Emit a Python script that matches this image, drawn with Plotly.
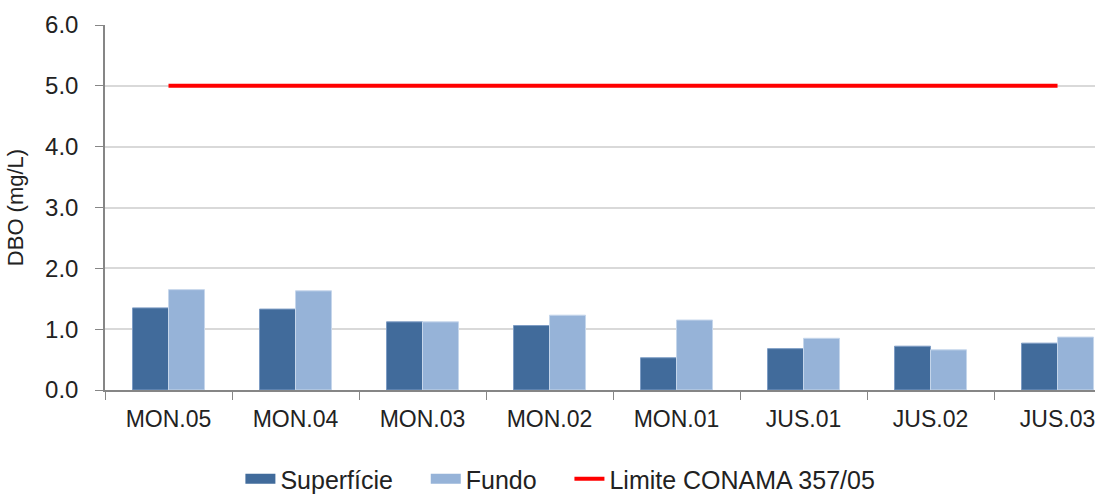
import plotly.graph_objects as go

stations = ["MON.05", "MON.04", "MON.03", "MON.02", "MON.01", "JUS.01", "JUS.02", "JUS.03"]
superficie = [1.35, 1.33, 1.12, 1.06, 0.53, 0.68, 0.72, 0.77]
fundo = [1.65, 1.63, 1.12, 1.23, 1.15, 0.85, 0.66, 0.87]
limite = [5.0] * len(stations)
y_ticks = [0, 1, 2, 3, 4, 5, 6]

font_family = "Liberation Sans, Arial, sans-serif"
dark_blue = "#416b9b"
light_blue = "#96b3d8"

fig = go.Figure()
fig.add_trace(go.Bar(
    x=stations, y=superficie, name="Superfície", showlegend=False,
    marker=dict(color=dark_blue, line=dict(color="#7d9cc4", width=1)),
))
fig.add_trace(go.Bar(
    x=stations, y=fundo, name="Fundo", showlegend=False,
    marker=dict(color=light_blue, line=dict(color="#c6d6eb", width=1)),
))
fig.add_trace(go.Scatter(
    x=stations, y=limite, name="Limite CONAMA 357/05", showlegend=False,
    mode="lines", line=dict(color="#ff0000", width=4),
))

# legend entries with wide swatches like the original
pad = "\u00a0" * 4
for name, color, width in [("Superfície" + pad, dark_blue, 16), ("Fundo" + pad, light_blue, 16),
                           ("Limite CONAMA 357/05", "#ff0000", 4)]:
    fig.add_trace(go.Scatter(x=[None], y=[None], mode="lines", name=name,
                             line=dict(color=color, width=width)))

fig.update_layout(
    width=1095, height=494,
    paper_bgcolor="white", plot_bgcolor="white",
    font=dict(family=font_family, color="#222222", size=23),
    margin=dict(l=105, r=0, t=25, b=104, autoexpand=False),
    barmode="group", bargap=0.433, bargroupgap=0,
    showlegend=True,
    legend=dict(orientation="h", x=0.46, xanchor="center", y=-0.244, yanchor="middle",
                font=dict(size=25), traceorder="normal"),
)
fig.update_xaxes(
    range=[-0.5, 7.295], showline=True, linecolor="#868686", linewidth=1.5,
    ticks="outside", tickson="boundaries", ticklen=8, tickcolor="#868686",
    tickfont=dict(size=23), ticklabelstandoff=8, showgrid=False, automargin=False,
)
fig.update_yaxes(
    range=[0, 6], tickvals=y_ticks, tickformat=".1f",
    showline=True, linecolor="#868686", linewidth=1.5,
    ticks="outside", ticklen=8, tickcolor="#868686",
    gridcolor="#d9d9d9", gridwidth=1.5, zeroline=False,
    tickfont=dict(size=24), ticklabelstandoff=12, automargin=False,
    title=dict(text="DBO (mg/L)", font=dict(size=22)),
)

page_css = ("document.documentElement.style.margin = '0';"
            "document.documentElement.style.overflow = 'hidden';"
            "document.body.style.margin = '0';"
            "document.body.style.overflow = 'hidden';")
fig.write_html("out.html", post_script=page_css, config={"displayModeBar": False})
